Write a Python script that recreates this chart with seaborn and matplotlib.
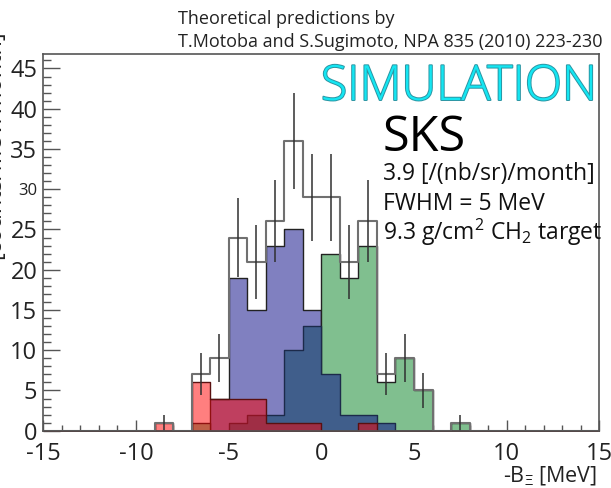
import numpy as np
import pandas as pd
import matplotlib
matplotlib.use("Agg")
import matplotlib.pyplot as plt
import matplotlib.patheffects as pe
from matplotlib.ticker import MultipleLocator
import seaborn as sns

# ---- spectrum content: 1 MeV bins, left edges from -9 to 7 MeV ----
bin_left = [-9, -8, -7, -6, -5, -4, -3, -2, -1, 0, 1, 2, 3, 4, 5, 6, 7]
total    = [1, 0, 7, 9, 24, 21, 26, 36, 29, 29, 21, 26, 7, 9, 5, 0, 1]
total_err = [1.0, 0, 2.6, 3.0, 4.9, 4.6, 5.1, 6.0, 5.4, 5.4, 4.6, 5.1, 2.6, 3.0, 2.2, 0, 1.0]
comp_red    = [1, 0, 6, 4, 4, 4, 1, 1, 1, 0, 0, 1, 0, 0, 0, 0, 0]
comp_purple = [0, 0, 0, 4, 19, 15, 23, 25, 15, 0, 0, 0, 0, 0, 0, 0, 0]
comp_navy   = [0, 0, 0, 0, 1, 2, 2, 10, 13, 7, 2, 2, 1, 0, 0, 0, 0]
comp_green  = [0, 0, 1, 0, 0, 0, 0, 0, 0, 22, 19, 23, 6, 9, 5, 0, 1]

x_ticks = [-15, -10, -5, 0, 5, 10, 15]
y_ticks = [0, 5, 10, 15, 20, 25, 30, 35, 40, 45]

sns.set_style("ticks")
plt.rcParams["font.family"] = ["Open Sans", "DejaVu Sans"]
plt.rcParams["mathtext.fontset"] = "custom"
plt.rcParams["mathtext.rm"] = "Open Sans"
plt.rcParams["mathtext.it"] = "Open Sans:italic"
plt.rcParams["mathtext.default"] = "regular"

W, H = 611, 488
fig = plt.figure(figsize=(W / 100, H / 100), dpi=100)
ax = fig.add_axes([43.3 / W, 1 - 430.7 / H, 556 / W, 376.7 / H])

df = pd.DataFrame({
    "center": np.array(bin_left, dtype=float) + 0.5,
    "total": total, "err": total_err,
    "red": comp_red, "purple": comp_purple,
    "navy": comp_navy, "green": comp_green,
})
edges = list(range(-15, 16))

def draw_component(col, face, alpha=1.0, edge="#222222"):
    sns.histplot(data=df, x="center", weights=col, bins=edges,
                 element="step", fill=True, color=face, alpha=alpha,
                 edgecolor=edge, linewidth=1.0, ax=ax)

draw_component("purple", "#8080c0")
draw_component("green", "#80bf8f")
draw_component("navy", "#405e8b", edge="#1c2a4a")
draw_component("red", "#ff0000", alpha=0.5, edge="#5a1010")

# total spectrum outline
sns.histplot(data=df, x="center", weights="total", bins=edges,
             element="step", fill=False, color="#707070", linewidth=1.5,
             ax=ax)

# statistical errors on the total
nz = df[df["total"] > 0]
ax.errorbar(nz["center"], nz["total"], yerr=nz["err"], fmt="none",
            ecolor="#303030", elinewidth=1.1, capsize=0, zorder=5)

ax.set_xlim(-15, 15)
ax.set_ylim(0, 46.8)
ax.set_xlabel("")
ax.set_ylabel("")
ax.set_xticks(x_ticks)
ax.set_yticks(y_ticks)
ax.set_xticklabels([str(v) for v in x_ticks])
ax.set_yticklabels([str(v) for v in y_ticks])
ax.xaxis.set_minor_locator(MultipleLocator(1))
ax.yaxis.set_minor_locator(MultipleLocator(1))

frame_col = "#555555"
for s in ax.spines.values():
    s.set_color(frame_col)
    s.set_linewidth(1.2)
    s.set_zorder(6)
ax.tick_params(axis="x", which="major", direction="in", length=7.9, width=1.0,
               color=frame_col, pad=8.0, labelsize=17, labelcolor="#222222")
ax.tick_params(axis="x", which="minor", direction="in", length=4.3, width=1.0,
               color=frame_col)
ax.tick_params(axis="y", which="major", direction="in", length=12, width=1.0,
               color=frame_col, pad=4.3, labelsize=17, labelcolor="#222222")
ax.tick_params(axis="y", which="minor", direction="in", length=6, width=1.0,
               color=frame_col)
for lab in ax.get_yticklabels():
    if lab.get_text() == "30":
        lab.set_fontsize(12)

def px(x, y):
    return x / W, 1 - y / H

# axis titles
fig.text(*px(597, 476), r"-B$_{\Xi}$ [MeV]", ha="right", va="center",
         fontsize=15.5, color="#222222")
fig.text(*px(6, 145), "[counts/MeV/month]", rotation=90, ha="right",
         va="center", fontsize=17, color="#222222")

# header
fig.text(*px(178, 24), "Theoretical predictions by", ha="left",
         va="baseline", fontsize=13, color="#222222")
fig.text(*px(178, 47), "T.Motoba and S.Sugimoto, NPA 835 (2010) 223-230",
         ha="left", va="baseline", fontsize=13, color="#222222")

# annotations inside the frame
sim = fig.text(*px(597, 100), "SIMULATION", ha="right", va="baseline",
               fontsize=35, fontweight="light", color="#14e6f2")
sim.set_path_effects([pe.Stroke(linewidth=1.4, foreground="#2a95a3"),
                      pe.Normal()])
fig.text(*px(383, 151), "SKS", ha="left", va="baseline", fontsize=35,
         color="black")
fig.text(*px(383, 180), "3.9 [/(nb/sr)/month]", ha="left", va="baseline",
         fontsize=16.5, color="#111111")
fig.text(*px(383, 210), "FWHM = 5 MeV", ha="left", va="baseline",
         fontsize=16.5, color="#111111")
fig.text(*px(383, 240), r"9.3 g/cm$^2$ CH$_2$ target", ha="left",
         va="baseline", fontsize=16.5, color="#111111")

fig.savefig("out.png", dpi=100)
